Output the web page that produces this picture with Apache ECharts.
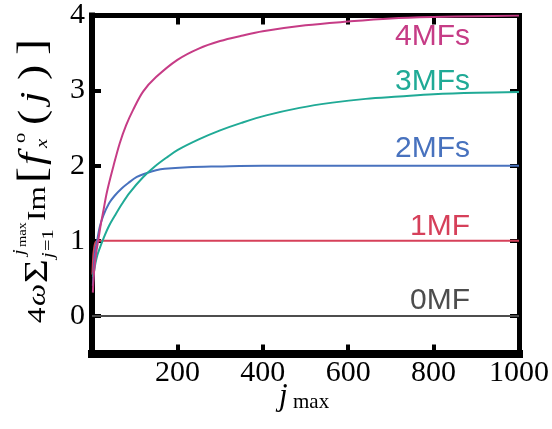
<!DOCTYPE html>
<html>
<head>
<meta charset="utf-8">
<script src="https://cdn.jsdelivr.net/npm/echarts@6/dist/echarts.min.js"></script>
<style>
  html, body { margin: 0; padding: 0; background: #fff; }
  #chart { width: 552px; height: 429px; }
</style>
</head>
<body>
<div id="chart"></div>
<script>
// Axis ticks
const xTicks = [0, 200, 400, 600, 800, 1000];
const yTicks = [0, 1, 2, 3, 4];

// Partial sums vs j_max for 0..4 Majorana flat bands
const j0MF = [0, 1000];
const v0MF = [0, 0];

const j1MF = [1, 3, 5, 7, 10, 15, 40, 200, 1000];
const v1MF = [0.55, 0.8, 0.9, 0.96, 0.99, 1.0, 1.0, 1.0, 1.0];

const j2MF = [2, 5, 8, 11, 18, 26, 40, 53, 70, 85, 105, 127, 150, 170, 224, 294, 400, 600, 800, 1000];
const v2MF = [0.4, 0.7, 0.88, 0.97, 1.18, 1.33, 1.5, 1.6, 1.7, 1.77, 1.85, 1.9, 1.94, 1.96, 1.98, 1.99, 2.0, 2.0, 2.0, 2.0];

const j3MF = [2, 5, 8, 12, 18, 26, 40, 53, 70, 88, 120, 147, 175, 201, 250, 300, 350, 408, 486, 563, 641, 719, 800, 900, 1000];
const v3MF = [0.52, 0.6, 0.7, 0.8, 0.9, 1.02, 1.2, 1.33, 1.49, 1.64, 1.85, 1.99, 2.11, 2.21, 2.35, 2.47, 2.57, 2.67, 2.77, 2.84, 2.89, 2.92, 2.95, 2.97, 2.98];

const j4MF = [2, 5, 10, 15, 20, 26, 35, 50, 65, 80, 96, 120, 150, 200, 250, 300, 350, 400, 500, 600, 700, 800, 900, 1000];
const v4MF = [0.31, 0.6, 0.85, 1.02, 1.2, 1.38, 1.65, 1.99, 2.3, 2.54, 2.74, 2.99, 3.18, 3.41, 3.56, 3.66, 3.73, 3.79, 3.87, 3.92, 3.96, 3.98, 3.99, 4.0];

const seriesNames = ['0MF', '1MF', '2MFs', '3MFs', '4MFs'];
const seriesColors = ['#4d4d4d', '#d6405a', '#4872be', '#20aa96', '#c63c86'];
const seriesJ = [j0MF, j1MF, j2MF, j3MF, j4MF];
const seriesV = [v0MF, v1MF, v2MF, v3MF, v4MF];

// baselines (px) of the curve names
const nameBaselines = [310, 236.5, 158.5, 91.5, 46.5];

const serifName = 'Liberation Serif';
const sansName = 'Liberation Sans';

const chart = echarts.init(document.getElementById('chart'), null, { renderer: 'canvas' });

function pairs(js, vs) { return js.map((j, i) => [j, vs[i]]); }

const tickStyle = { show: true, inside: true, length: 9, lineStyle: { color: '#000', width: 4 } };

function xAxisCfg(pos, lineW, showLabel) {
  return {
    type: 'value', position: pos, min: 0, max: 1000, interval: 200,
    axisLine: { show: true, onZero: false, lineStyle: { color: '#000', width: lineW, cap: 'square' } },
    axisTick: Object.assign({ customValues: xTicks }, tickStyle),
    axisLabel: {
      show: showLabel, customValues: xTicks.slice(1), margin: 5,
      formatter: v => String(v),
      fontFamily: serifName, fontSize: 30, color: '#000'
    },
    splitLine: { show: false }
  };
}
function yAxisCfg(pos, lineW, showLabel) {
  return {
    type: 'value', position: pos, min: -0.5, max: 4, interval: 0.5,
    axisLine: { show: true, onZero: false, lineStyle: { color: '#000', width: lineW, cap: 'square' } },
    axisTick: Object.assign({ customValues: yTicks }, tickStyle),
    axisLabel: {
      show: showLabel, customValues: yTicks, margin: 7,
      formatter: v => String(v),
      fontFamily: serifName, fontSize: 30, color: '#000'
    },
    splitLine: { show: false }
  };
}

// ---- rotated y-axis title, assembled from text pieces ----
function fontOf(size, italic) { return (italic ? 'italic ' : '') + size + 'px ' + serifName; }
const titleParts = [];
const stretch = 1.2;
function piece(t, size, italic, x, dy) {
  titleParts.push({
    type: 'text', x: x, y: dy - 0.31 * size, scaleX: stretch,
    style: { text: t, font: fontOf(size, italic), fill: '#000', align: 'left', verticalAlign: 'middle' }
  });
}
const M = 26;
piece('4', M, false, 0, 0);
piece('ω', M, true, 17, 0);
piece('Σ', 34, false, 40, 3);
piece('j', 17, true, 68, -21);
piece('max', 12, false, 76, -19);
piece('j', 17, true, 65, 8);
piece('=1', 17, false, 72, 8);
piece('Im', M, false, 102, 0);
piece('[', 40, false, 140, 1);
piece('f', 36, true, 158, -1);
piece('o', 17, false, 180, -20);
piece('x', 17, true, 175, 2);
piece('(', 38, false, 198, 0);
piece('j', 34, true, 220, -1);
piece(')', 38, false, 243, 0);
piece(']', 40, false, 268, 1);

const graphics = [
  { type: 'group', x: 46, y: 323, rotation: Math.PI / 2, children: titleParts },
  // x-axis title: j_max
  { type: 'text', x: 279, y: 406 - 0.31 * 31,
    style: { text: 'j', font: fontOf(31, true), fill: '#000', align: 'left', verticalAlign: 'middle' } },
  { type: 'text', x: 293, y: 409 - 0.31 * 21,
    style: { text: 'max', font: fontOf(21, false), fill: '#000', align: 'left', verticalAlign: 'middle' } }
];
seriesNames.forEach((n, i) => {
  graphics.push({
    type: 'text', x: 470, y: nameBaselines[i] - 0.31 * 30, z: 10,
    style: { text: n, font: '30px ' + sansName, fill: seriesColors[i], align: 'right', verticalAlign: 'middle' }
  });
});

chart.setOption({
  animation: false,
  backgroundColor: '#fff',
  grid: { left: 92, right: 31, top: 15.5, bottom: 75.5, containLabel: false },
  xAxis: [xAxisCfg('bottom', 8, true), xAxisCfg('top', 5, false)],
  yAxis: [yAxisCfg('left', 6, true), yAxisCfg('right', 5, false)],
  series: seriesNames.map((n, i) => ({
    name: n, type: 'line', xAxisIndex: 0, yAxisIndex: 0,
    data: pairs(seriesJ[i], seriesV[i]),
    showSymbol: false, smooth: 0.35,
    lineStyle: { color: seriesColors[i], width: 2 },
    z: 2 + i
  })),
  graphic: graphics
});
</script>
</body>
</html>
